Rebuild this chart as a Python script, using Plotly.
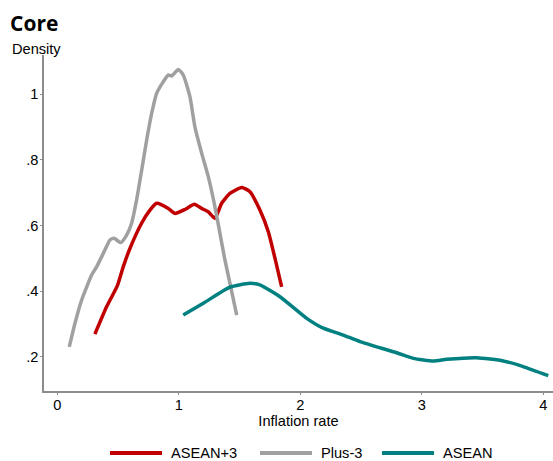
import plotly.graph_objects as go

# Kernel density estimates of core inflation
plus3_x = [0.099, 0.146, 0.201, 0.283, 0.324, 0.379, 0.434, 0.467, 0.522, 0.571, 0.612,
           0.653, 0.695, 0.736, 0.777, 0.818, 0.872, 0.914, 0.942, 0.996, 1.037, 1.092,
           1.133, 1.189, 1.243, 1.298, 1.339, 1.380, 1.421, 1.477]
plus3_y = [0.230, 0.302, 0.373, 0.449, 0.474, 0.515, 0.556, 0.561, 0.548, 0.571, 0.607,
           0.678, 0.769, 0.861, 0.942, 1.003, 1.038, 1.059, 1.056, 1.076, 1.059, 0.993,
           0.901, 0.820, 0.749, 0.657, 0.576, 0.495, 0.424, 0.327]

asean3_x = [0.310, 0.406, 0.494, 0.543, 0.598, 0.694, 0.763, 0.818, 0.914, 0.969, 1.051,
            1.128, 1.189, 1.243, 1.298, 1.353, 1.421, 1.518, 1.586, 1.668, 1.737, 1.792,
            1.847]
asean3_y = [0.269, 0.352, 0.416, 0.474, 0.530, 0.607, 0.647, 0.668, 0.652, 0.637, 0.649,
            0.665, 0.652, 0.642, 0.622, 0.668, 0.698, 0.716, 0.703, 0.647, 0.581, 0.500,
            0.413]

asean_x = [1.037, 1.202, 1.421, 1.586, 1.668, 1.833, 2.053, 2.189, 2.354, 2.491, 2.793,
           2.930, 3.095, 3.205, 3.452, 3.671, 3.835, 4.041]
asean_y = [0.327, 0.363, 0.412, 0.424, 0.419, 0.383, 0.317, 0.287, 0.266, 0.246, 0.212,
           0.195, 0.187, 0.192, 0.197, 0.187, 0.170, 0.142]

x_ticks = [0, 1, 2, 3, 4]
y_ticks = [0.2, 0.4, 0.6, 0.8, 1.0]
y_labels = [".2", ".4", ".6", ".8", "1"]

FONT = "Arial, Liberation Sans, sans-serif"
FS = 14.6
AXIS_GRAY = "#8c8c8c"

W, H = 553, 461
ML, MR, MT, MB = 44, 0, 55, 70
PW, PH = W - ML - MR, H - MT - MB


def px_x(p):
    """Pixel column -> paper x."""
    return (p - ML) / PW


def px_y(p):
    """Pixel row -> paper y."""
    return 1 - (p - MT) / PH


fig = go.Figure()
series = [
    ("ASEAN+3", asean3_x, asean3_y, "#c00000"),
    ("Plus-3", plus3_x, plus3_y, "#a0a0a0"),
    ("ASEAN", asean_x, asean_y, "#008080"),
]
for name, xs, ys, color in series:
    fig.add_trace(go.Scatter(
        x=xs, y=ys, name=name, mode="lines", showlegend=False,
        line=dict(color=color, width=3.5, shape="spline", smoothing=0.5),
    ))

# Legend row below the axis title: swatch line + label per series
legend_left = [110, 260, 382]
legend_row = px_y(453)
shapes, annotations = [], []
for (name, _, _, color), left in zip(series, legend_left):
    shapes.append(dict(type="line", xref="paper", yref="paper",
                       x0=px_x(left), x1=px_x(left + 52), y0=legend_row, y1=legend_row,
                       line=dict(color=color, width=4)))
    annotations.append(dict(text=name, xref="paper", yref="paper",
                            x=px_x(left + 59), y=legend_row, xanchor="left", yanchor="middle",
                            showarrow=False, font=dict(size=FS, color="#000000")))

annotations += [
    dict(text="<b>Core</b>", xref="paper", yref="paper", x=px_x(8), y=px_y(23),
         xanchor="left", yanchor="middle", showarrow=False,
         font=dict(family="Open Sans, sans-serif", size=21, color="#000000")),
    dict(text="Density", xref="paper", yref="paper", x=px_x(10), y=px_y(59),
         xanchor="left", yanchor="bottom", showarrow=False,
         font=dict(size=FS, color="#000000")),
]

fig.update_layout(
    width=W, height=H,
    margin=dict(l=ML, r=MR, t=MT, b=MB, autoexpand=False),
    plot_bgcolor="white", paper_bgcolor="white",
    font=dict(family=FONT, size=FS, color="#000000"),
    showlegend=False,
    xaxis=dict(
        range=[-0.109, 4.08], tickvals=x_ticks, showgrid=False, zeroline=False,
        showline=True, linecolor=AXIS_GRAY, linewidth=1.5, automargin=False,
        ticks="outside", ticklen=2, tickcolor=AXIS_GRAY, ticklabelstandoff=-2,
        title=dict(text="Inflation rate", standoff=2, font=dict(size=FS)),
    ),
    yaxis=dict(
        range=[0.0954, 1.12], tickvals=y_ticks, ticktext=y_labels,
        showgrid=False, zeroline=False, automargin=False,
        showline=True, linecolor=AXIS_GRAY, linewidth=1.5,
        ticks="outside", ticklen=2, tickcolor=AXIS_GRAY, ticklabelstandoff=-1,
    ),
    shapes=shapes,
    annotations=annotations,
)

fig.write_html("out.html")
